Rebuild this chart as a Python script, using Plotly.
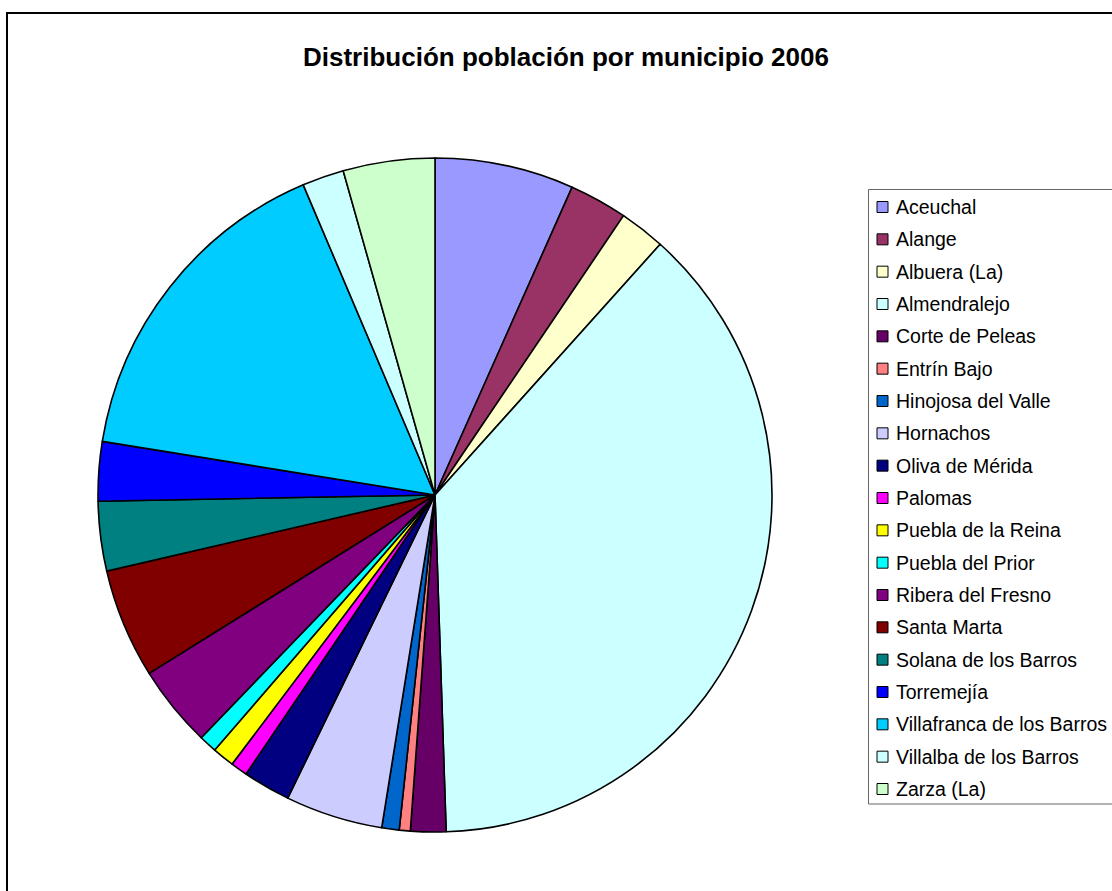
import plotly.graph_objects as go

W, H = 1112, 891

municipios = [
    "Aceuchal", "Alange", "Albuera (La)", "Almendralejo", "Corte de Peleas",
    "Entrín Bajo", "Hinojosa del Valle", "Hornachos", "Oliva de Mérida",
    "Palomas", "Puebla de la Reina", "Puebla del Prior", "Ribera del Fresno",
    "Santa Marta", "Solana de los Barros", "Torremejía",
    "Villafranca de los Barros", "Villalba de los Barros", "Zarza (La)",
]
poblacion = [
    5647, 2353, 1859, 32024, 1435,
    447, 706, 3953, 1929,
    682, 894, 729, 3318,
    4447, 2824, 2400,
    13600, 1694, 3718,
]
colores = [
    "#9999FF", "#993366", "#FFFFCC", "#CCFFFF", "#660066",
    "#FF8080", "#0066CC", "#CCCCFF", "#000080",
    "#FF00FF", "#FFFF00", "#00FFFF", "#800080",
    "#800000", "#008080", "#0000FF",
    "#00CCFF", "#CCFFFF", "#CCFFCC",
]
titulo = "Distribución población por municipio 2006"

def px(x):
    return x / W

def py(y):
    return 1 - y / H

fig = go.Figure()
fig.add_trace(go.Pie(
    labels=municipios,
    values=poblacion,
    sort=False,
    direction="clockwise",
    rotation=0,
    marker=dict(colors=colores, line=dict(color="black", width=1.6)),
    textinfo="none",
    hoverinfo="label+value+percent",
    showlegend=False,
    domain=dict(x=[px(98), px(772)], y=[py(832), py(158)]),
))

shapes = []
annotations = []
# outer chart border
shapes.append(dict(type="rect", xref="paper", yref="paper",
                   x0=px(7), x1=px(1125), y0=py(905), y1=py(13),
                   line=dict(color="black", width=2), fillcolor="rgba(0,0,0,0)"))
# legend box
shapes.append(dict(type="rect", xref="paper", yref="paper",
                   x0=px(868.5), x1=px(1125), y0=py(804), y1=py(189.5),
                   line=dict(color="#666666", width=1), fillcolor="white"))

y0 = 207.0
step = (789.0 - 207.0) / (len(municipios) - 1)
for i, (name, col) in enumerate(zip(municipios, colores)):
    yc = y0 + i * step
    shapes.append(dict(type="rect", xref="paper", yref="paper",
                       x0=px(877), x1=px(888), y0=py(yc + 5.5), y1=py(yc - 5.5),
                       line=dict(color="black", width=1), fillcolor=col))
    annotations.append(dict(x=px(894), y=py(yc), xref="paper", yref="paper",
                            text=name, showarrow=False, xanchor="left", yanchor="middle",
                            font=dict(family="Liberation Sans, Arial", size=19.5, color="black")))

annotations.append(dict(x=px(566), y=py(57), xref="paper", yref="paper",
                        text="<b>" + titulo + "</b>", showarrow=False,
                        xanchor="center", yanchor="middle",
                        font=dict(family="Liberation Sans, Arial", size=26, color="black")))

fig.update_layout(
    width=W, height=H,
    margin=dict(l=0, r=0, t=0, b=0),
    paper_bgcolor="white",
    plot_bgcolor="white",
    shapes=shapes,
    annotations=annotations,
)

fig.write_html("out.html", config={"displayModeBar": False},
               post_script="document.body.style.margin='0';document.body.style.overflow='hidden';")
